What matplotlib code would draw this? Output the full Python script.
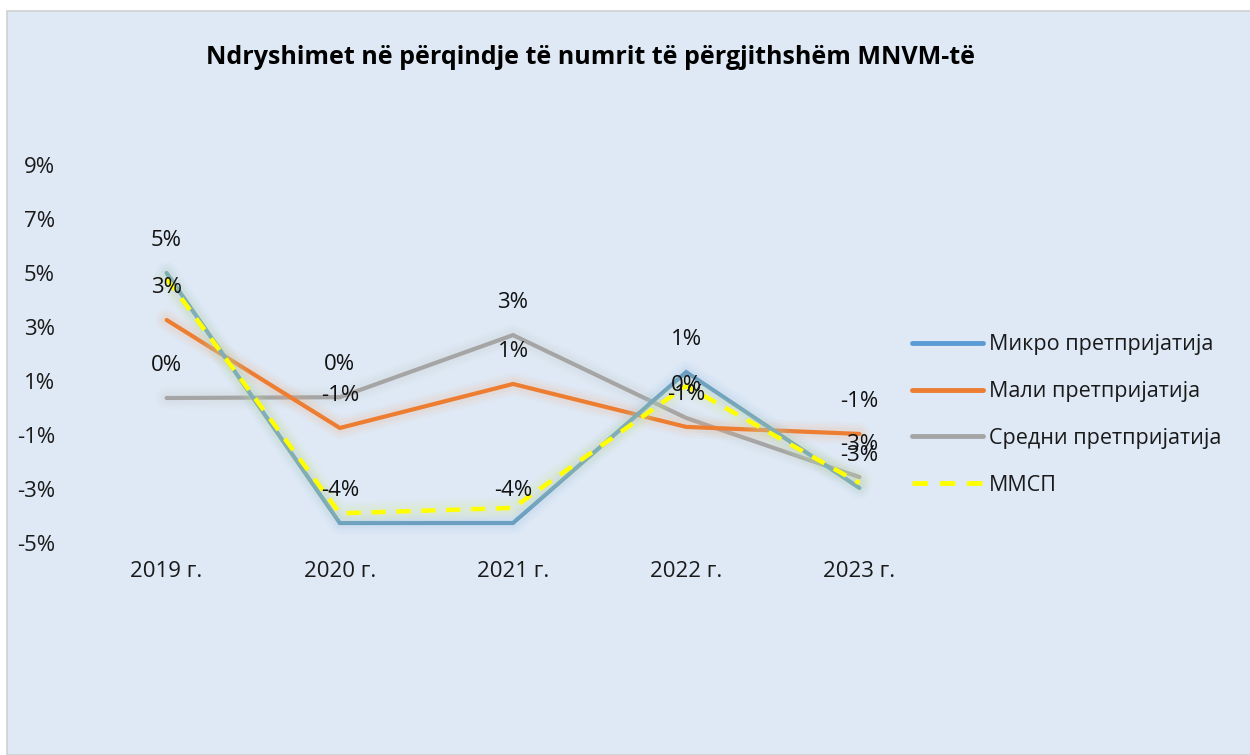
import matplotlib
matplotlib.use('agg')
import matplotlib.pyplot as plt
from matplotlib.lines import Line2D
from matplotlib.patches import Rectangle

plt.rcParams['font.family'] = ['Open Sans', 'DejaVu Sans']

years = ['2019 г.', '2020 г.', '2021 г.', '2022 г.', '2023 г.']
# values in percent
mikro = [5.0, -4.26, -4.26, 1.33, -2.96]
mali = [3.26, -0.74, 0.89, -0.70, -0.96]
sredni = [0.37, 0.40, 2.70, -0.37, -2.56]
mmsp = [4.80, -3.90, -3.70, 0.82, -2.78]

names = ['Микро претпријатија', 'Мали претпријатија', 'Средни претпријатија', 'ММСП']
title = 'Ndryshimet në përqindje të numrit të përgjithshëm MNVM-të'
yticks = [-5, -3, -1, 1, 3, 5, 7, 9]

bg = '#DEE9F5'
c_mikro = '#6A9FC2'
c_mikro_leg = '#5B9BD5'
c_mali = '#ED7D31'
c_sredni = '#A5A5A5'
c_mmsp = '#FFFF00'

fig = plt.figure(figsize=(12.5, 7.55), dpi=100)
fig.patch.set_facecolor('white')
# chart area with thin grey border on left/top
fig.patches.append(Rectangle((6.5 / 1250, 0), 1, (755 - 10.5) / 755, transform=fig.transFigure,
                             facecolor=bg, edgecolor='#D0D0D0', linewidth=1.2, zorder=-1))

ax = fig.add_axes([80 / 1250, (755 - 543) / 755, 866 / 1250, 378 / 755])
ax.set_facecolor('none')
x = list(range(len(years)))


def glow_line(vals, color, glow, z=3):
    for lw, a in [(16, 0.06), (12, 0.08), (8, 0.10)]:
        ax.plot(x, vals, color=glow, lw=lw, alpha=a, solid_capstyle='round',
                solid_joinstyle='round', zorder=z - 1)
    ax.plot(x, vals, color=color, lw=3, zorder=z,
            solid_capstyle='round', solid_joinstyle='miter')


glow_line(sredni, c_sredni, '#C8C8C8', z=3)
glow_line(mali, c_mali, '#F4B183', z=4)
glow_line(mikro, c_mikro, '#9DC3E6', z=5)
for lw, a in [(16, 0.06), (12, 0.08), (8, 0.10)]:
    ax.plot(x, mmsp, color='#D9E88A', lw=lw, alpha=a, solid_joinstyle='round', zorder=5)
ax.plot(x, mmsp, color=c_mmsp, lw=3.2, dashes=(3.2, 2.4), zorder=6)

# data labels above points (ММСП has none)
for vals in [mikro, mali, sredni]:
    for xi, v in zip(x, vals):
        ax.annotate(f'{round(v):d}%', (xi, v), xytext=(0, 23.5), textcoords='offset points',
                    ha='center', va='center', fontsize=16, color='#111111', zorder=10)

ax.set_xlim(-0.5, 4.5)
ax.set_ylim(-5, 9)
ax.set_yticks(yticks)
ax.set_yticklabels([f'{t}%' for t in yticks])
ax.set_xticks(x)
ax.set_xticklabels(years)
ax.tick_params(axis='both', length=0, labelsize=16, colors='#1A1A1A')
ax.tick_params(axis='y', pad=18)
ax.tick_params(axis='x', pad=13)
for s in ax.spines.values():
    s.set_visible(False)

fig.text(591 / 1250, 1 - 58 / 755, title, ha='center', va='center',
         fontsize=18, fontweight='bold', color='#000000')

handles = [
    Line2D([], [], color=c_mikro_leg, lw=3.5, solid_capstyle='round'),
    Line2D([], [], color=c_mali, lw=3.5, solid_capstyle='round'),
    Line2D([], [], color=c_sredni, lw=3.5, solid_capstyle='round'),
    Line2D([], [], color=c_mmsp, lw=3.5, dashes=(3.2, 2.4)),
]
fig.legend(handles, names, loc='center left', bbox_to_anchor=(893 / 1250, 1 - 415 / 755),
           frameon=False, fontsize=15.5, handlelength=3.3, handletextpad=0.25,
           labelspacing=1.2, labelcolor='#1A1A1A')

fig.savefig('out.png', dpi=100, facecolor=fig.get_facecolor())
